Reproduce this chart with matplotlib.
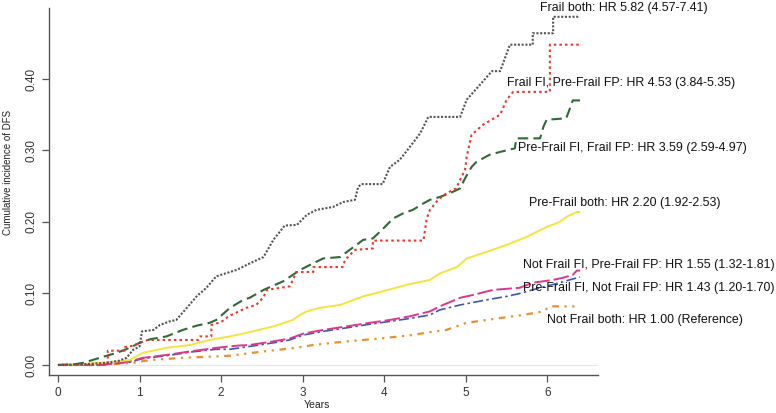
import matplotlib
matplotlib.use("Agg")
import matplotlib.pyplot as plt

plt.rcParams['font.family'] = ['Liberation Sans', 'DejaVu Sans']

# ---- data ----
frail_both_t = [0, 0.3, 0.6, 0.75, 0.84, 0.92, 1.0, 1.03, 1.17, 1.25, 1.37, 1.45, 1.58, 1.70, 1.82, 1.94, 2.19, 2.35,
                2.52, 2.64, 2.78, 2.93, 3.05, 3.17, 3.37, 3.50, 3.64, 3.68, 3.72, 3.98, 4.07, 4.19, 4.28, 4.44, 4.54,
                4.93, 5.01, 5.15, 5.32, 5.42, 5.54, 5.82, 5.82, 6.07, 6.07, 6.40]
frail_both_v = [0, 0.001, 0.003, 0.006, 0.010, 0.021, 0.026, 0.047, 0.049, 0.056, 0.061, 0.063, 0.080, 0.096, 0.108,
                0.124, 0.133, 0.142, 0.151, 0.175, 0.195, 0.196, 0.210, 0.217, 0.221, 0.228, 0.231, 0.249, 0.253,
                0.253, 0.277, 0.287, 0.300, 0.324, 0.347, 0.347, 0.371, 0.389, 0.411, 0.411, 0.448, 0.448, 0.464,
                0.464, 0.487, 0.487]

frailFI_t = [0, 0.61, 0.61, 0.82, 0.82, 0.92, 1.0, 1.1, 1.72, 1.74, 1.88, 1.88, 2.0, 2.09, 2.2, 2.31, 2.43, 2.52, 2.56,
             2.84, 2.88, 2.92, 3.13, 3.13, 3.49, 3.52, 3.64, 3.86, 3.86, 4.48, 4.52, 4.56, 4.66, 4.76, 4.88, 4.93,
             4.99, 5.01, 5.07, 5.21, 5.42, 5.50, 5.58, 6.03, 6.03, 6.40]
frailFI_v = [0, 0, 0.020, 0.020, 0.025, 0.027, 0.031, 0.035, 0.035, 0.040, 0.040, 0.056, 0.060, 0.068, 0.074, 0.080,
             0.084, 0.095, 0.105, 0.110, 0.119, 0.130, 0.130, 0.137, 0.137, 0.147, 0.161, 0.163, 0.174, 0.174,
             0.205, 0.217, 0.231, 0.240, 0.247, 0.259, 0.273, 0.291, 0.322, 0.336, 0.350, 0.371, 0.382, 0.382,
             0.448, 0.448]

frailFP_t = [0, 0.2, 0.31, 0.51, 0.72, 0.88, 1.0, 1.13, 1.33, 1.53, 1.70, 1.86, 1.94, 2.11, 2.27, 2.35, 2.52, 2.76,
             2.97, 3.09, 3.25, 3.46, 3.54, 3.66, 3.74, 3.86, 3.98, 4.11, 4.23, 4.35, 4.48, 4.56, 4.68, 4.80, 4.93,
             4.99, 5.07, 5.13, 5.29, 5.42, 5.60, 5.62, 5.91, 5.95, 5.99, 6.23, 6.27, 6.31, 6.40]
frailFP_v = [0, 0.001, 0.003, 0.010, 0.017, 0.024, 0.031, 0.036, 0.040, 0.049, 0.055, 0.059, 0.063, 0.080, 0.091,
             0.094, 0.105, 0.117, 0.133, 0.140, 0.149, 0.151, 0.158, 0.168, 0.175, 0.177, 0.190, 0.205, 0.212,
             0.217, 0.226, 0.231, 0.235, 0.240, 0.247, 0.261, 0.277, 0.284, 0.294, 0.298, 0.303, 0.317, 0.317,
             0.333, 0.343, 0.345, 0.357, 0.370, 0.370]

prefrail_both_t = [0, 0.3, 0.51, 0.72, 0.88, 0.96, 1.04, 1.33, 1.62, 1.86, 2.11, 2.35, 2.64, 2.88, 2.95, 3.05, 3.21,
                   3.46, 3.74, 3.98, 4.27, 4.56, 4.68, 4.89, 5.01, 5.25, 5.50, 5.74, 5.99, 6.15, 6.23, 6.36, 6.40]
prefrail_both_v = [0, 0.001, 0.003, 0.005, 0.007, 0.012, 0.017, 0.024, 0.028, 0.035, 0.040, 0.046, 0.054, 0.063,
                   0.069, 0.075, 0.080, 0.084, 0.096, 0.103, 0.112, 0.119, 0.128, 0.137, 0.149, 0.158, 0.168,
                   0.179, 0.193, 0.200, 0.207, 0.214, 0.214]

notfrailFI_t = [0, 0.51, 0.88, 1.04, 1.33, 1.62, 1.94, 2.19, 2.35, 2.64, 2.84, 3.01, 3.25, 3.54, 3.82, 4.07, 4.31,
                4.56, 4.68, 4.93, 5.09, 5.33, 5.66, 5.82, 6.07, 6.19, 6.31, 6.36, 6.40]
notfrailFI_v = [0, 0, 0.005, 0.010, 0.014, 0.019, 0.024, 0.027, 0.028, 0.033, 0.037, 0.044, 0.049, 0.054, 0.059,
                0.063, 0.068, 0.075, 0.082, 0.094, 0.098, 0.105, 0.108, 0.115, 0.119, 0.122, 0.126, 0.132, 0.132]

notfrailFP_t = [0, 0.51, 0.88, 1.04, 1.33, 1.62, 1.94, 2.11, 2.35, 2.64, 2.84, 3.01, 3.25, 3.54, 3.82, 4.07, 4.31,
                4.56, 4.68, 4.93, 5.25, 5.50, 5.66, 5.91, 6.15, 6.27, 6.40]
notfrailFP_v = [0, 0, 0.004, 0.009, 0.013, 0.018, 0.022, 0.022, 0.026, 0.031, 0.035, 0.042, 0.047, 0.052, 0.057,
                0.061, 0.065, 0.070, 0.077, 0.084, 0.091, 0.096, 0.100, 0.108, 0.115, 0.119, 0.123]

notfrail_both_t = [0, 0.51, 0.92, 1.13, 1.53, 1.94, 2.11, 2.52, 2.92, 3.13, 3.54, 3.94, 4.35, 4.56, 4.76, 5.01, 5.38,
                   5.70, 5.95, 6.03, 6.40]
notfrail_both_v = [0, 0, 0.003, 0.007, 0.010, 0.012, 0.013, 0.019, 0.024, 0.028, 0.033, 0.037, 0.042, 0.046, 0.049,
                   0.059, 0.065, 0.070, 0.075, 0.082, 0.082]

labels = ["Frail both: HR 5.82 (4.57-7.41)",
          "Frail FI, Pre-Frail FP: HR 4.53 (3.84-5.35)",
          "Pre-Frail FI, Frail FP: HR 3.59 (2.59-4.97)",
          "Pre-Frail both: HR 2.20 (1.92-2.53)",
          "Not Frail FI, Pre-Frail FP: HR 1.55 (1.32-1.81)",
          "Pre-Frail FI, Not Frail FP: HR 1.43 (1.20-1.70)",
          "Not Frail both: HR 1.00 (Reference)"]

x_ticks = [0, 1, 2, 3, 4, 5, 6]
y_ticks = [0.0, 0.1, 0.2, 0.3, 0.4]
y_tick_labels = ["0.00", "0.10", "0.20", "0.30", "0.40"]

# ---- styles ----
series = [
    (frail_both_t, frail_both_v, '#555555', (0, (1, 0.8)), 1.5),
    (frailFI_t, frailFI_v, '#e8392e', (0, (1.2, 1.5)), 1.5),
    (frailFP_t, frailFP_v, '#2f6b35', (0, (5, 2.5)), 1.5),
    (prefrail_both_t, prefrail_both_v, '#f2e53c', '-', 1.4),
    (notfrailFI_t, notfrailFI_v, '#e2348a', (0, (8, 2)), 1.4),
    (notfrailFP_t, notfrailFP_v, '#3e58b0', (0, (6, 2, 1.5, 2)), 1.2),
    (notfrail_both_t, notfrail_both_v, '#e8912f', (0, (3, 2.5, 1, 2.5, 1, 2.5)), 1.6),
]
# label anchor (data coords) for each series' annotation
label_pos = [(5.91, 0.499), (5.51, 0.394), (5.64, 0.303), (5.78, 0.227),
             (5.70, 0.140), (5.70, 0.108), (5.99, 0.063)]

fig = plt.figure(figsize=(7.76, 4.13), dpi=100)
ax = fig.add_axes([49 / 776, 38 / 413, 549 / 776, 367 / 413])

ax.axhline(0, color='#e6e6e6', lw=0.8, xmin=(0.11) / 6.73, zorder=0)

# draw in reverse so that upper curves overlay lower ones as in reference
for (t, v, c, ls, lw) in reversed(series):
    ax.plot(t, v, color=c, linestyle=ls, lw=lw, solid_capstyle='butt', dash_capstyle='butt')

for lab, (x, y) in zip(labels, label_pos):
    ax.text(x, y, lab, ha='left', va='center', fontsize=8.9, color='#111111', clip_on=False)

ax.set_xlim(-0.11, 6.62)
ax.set_ylim(-0.014, 0.4993)
ax.set_xticks(x_ticks)
ax.set_xticklabels([str(v) for v in x_ticks], fontsize=8.5)
ax.set_yticks(y_ticks)
ax.set_yticklabels(y_tick_labels, fontsize=8.5, rotation=90, va='center')
for s in ['top', 'right']:
    ax.spines[s].set_visible(False)
for s in ['left', 'bottom']:
    ax.spines[s].set_color('#555555')
    ax.spines[s].set_linewidth(1.0)
ax.tick_params(axis='both', direction='out', length=5, width=0.9, color='#555555', labelcolor='#333333')
ax.tick_params(axis='x', pad=4)
ax.tick_params(axis='y', pad=3)

fig.text(317 / 776, 1 - 405 / 413, "Years", ha='center', va='center', fontsize=7.5, color='#222222')
fig.text(8 / 776, 1 - 172 / 413, "Cumulative incidence of DFS", ha='center', va='center', rotation=90,
         fontsize=7, color='#222222')

fig.savefig("out.png", dpi=100)
